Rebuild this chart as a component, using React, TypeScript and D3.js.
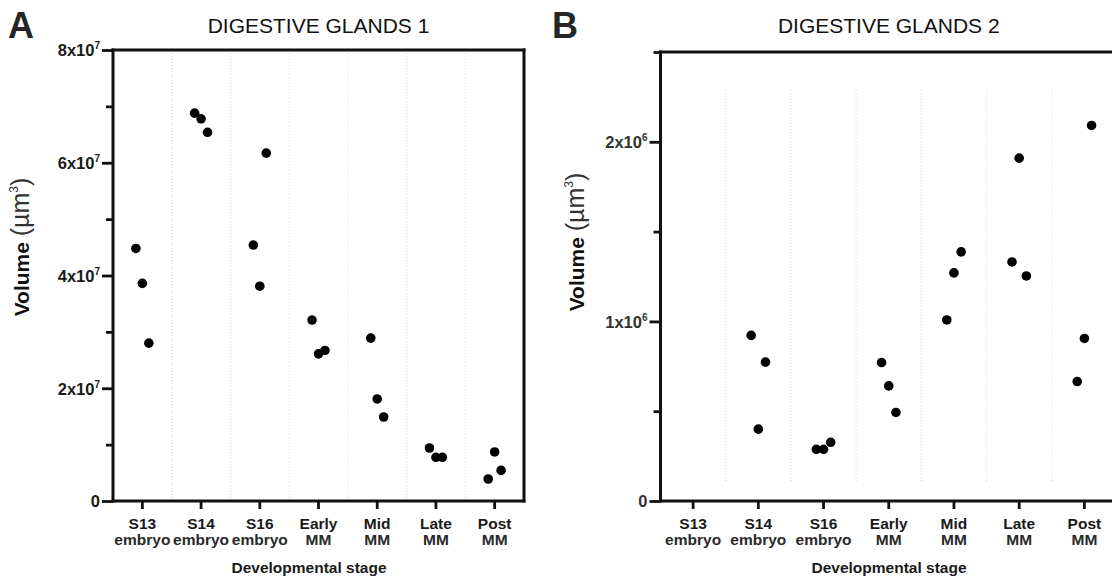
import React, { useEffect, useRef } from "react";
import * as d3 from "d3";

// developmental stages (two-line tick labels)
const stageTop = ["S13", "S14", "S16", "Early", "Mid", "Late", "Post"];
const stageBottom = ["embryo", "embryo", "embryo", "MM", "MM", "MM", "MM"];

// digestive glands 1 volumes (µm³), one list per stage
const glands1 = [
  [4.48e7, 3.86e7, 2.8e7],
  [6.88e7, 6.78e7, 6.54e7],
  [4.54e7, 3.81e7, 6.17e7],
  [3.21e7, 2.61e7, 2.67e7],
  [2.89e7, 1.81e7, 1.49e7],
  [0.94e7, 0.775e7, 0.775e7],
  [0.39e7, 0.87e7, 0.545e7],
];

// digestive glands 2 volumes (µm³)
const glands2 = [
  [],
  [0.922e6, 0.4e6, 0.773e6],
  [0.288e6, 0.288e6, 0.327e6],
  [0.771e6, 0.641e6, 0.493e6],
  [1.008e6, 1.27e6, 1.387e6],
  [1.331e6, 1.909e6, 1.253e6],
  [0.665e6, 0.905e6, 2.091e6],
];

const majorTicks1 = [0, 2e7, 4e7, 6e7, 8e7];
const minorTicks1 = [1e7, 3e7, 5e7, 7e7];
const majorTicks2 = [0, 1e6, 2e6];
const minorTicks2 = [0.5e6, 1.5e6, 2.5e6];

const FONT = "'Liberation Sans', Arial, Helvetica, sans-serif";
const INK = "#111";

const panels = [
  {
    letter: "A", letterX: 8, title: "DIGESTIVE GLANDS 1",
    data: glands1, yMax: 8e7, major: majorTicks1, minor: minorTicks1, exp: 7,
    left: 113, right: 524, top: 50, bottom: 501,
    yLabelX: 29, yLabelY: 247, xTitleX: 309, gridTop: 50, gridBottom: 501,
    tickColor: "#1a1a1a",
  },
  {
    letter: "B", letterX: 552, title: "DIGESTIVE GLANDS 2",
    data: glands2, yMax: 2.5e6, major: majorTicks2, minor: minorTicks2, exp: 6,
    left: 660.5, right: 1117, top: 52, bottom: 501,
    yLabelX: 584, yLabelY: 242, xTitleX: 889, gridTop: 90, gridBottom: 483,
    tickColor: "#333",
  },
];

function drawPanel(svg, p) {
  const g = svg.append("g").attr("font-family", FONT);

  const x = d3
    .scaleBand()
    .domain(d3.range(stageTop.length))
    .range([p.left, p.right])
    .padding(0);

  const y = d3.scaleLinear().domain([0, p.yMax]).range([p.bottom, p.top]);

  // faint dotted separators between stages
  g.selectAll(".sep")
    .data(d3.range(1, stageTop.length))
    .join("line")
    .attr("x1", (d) => p.left + d * x.step())
    .attr("x2", (d) => p.left + d * x.step())
    .attr("y1", p.gridTop)
    .attr("y2", p.gridBottom)
    .attr("stroke", "#d4d4d4")
    .attr("stroke-width", 1)
    .attr("stroke-dasharray", "1,2");

  // minor y ticks
  const minorAxis = g
    .append("g")
    .attr("transform", `translate(${p.left},0)`)
    .call(d3.axisLeft(y).tickValues(p.minor).tickSize(7).tickFormat(() => ""));
  minorAxis.select(".domain").remove();
  minorAxis.selectAll("line").attr("stroke", INK).attr("stroke-width", 2.8);

  // major y ticks with labels m x 10^exp
  const yAxis = g
    .append("g")
    .attr("transform", `translate(${p.left},0)`)
    .call(d3.axisLeft(y).tickValues(p.major).tickSize(11).tickPadding(3));
  yAxis.select(".domain").remove();
  yAxis.selectAll("line").attr("stroke", INK).attr("stroke-width", 2.8);
  yAxis
    .selectAll(".tick text")
    .attr("font-family", FONT)
    .attr("font-size", 16.5)
    .attr("font-weight", "bold")
    .attr("fill", p.tickColor)
    .attr("x", -13)
    .attr("dy", "0.36em")
    .each(function (d) {
      const t = d3.select(this);
      t.text(null);
      if (d === 0) {
        t.text("0");
        return;
      }
      t.append("tspan").text(`${d / Math.pow(10, p.exp)}x10`);
      t.append("tspan")
        .attr("font-size", 10)
        .attr("dy", -7)
        .text(p.exp);
    });

  // x ticks with two-line labels
  const xAxis = g
    .append("g")
    .attr("transform", `translate(0,${p.bottom})`)
    .call(d3.axisBottom(x).tickSize(8).tickSizeOuter(0));
  xAxis.select(".domain").remove();
  xAxis.selectAll("line").attr("stroke", INK).attr("stroke-width", 2.8);
  xAxis
    .selectAll(".tick text")
    .attr("font-family", FONT)
    .attr("font-size", 15.5)
    .attr("font-weight", "bold")
    .attr("fill", "#1a1a1a")
    .attr("y", 0)
    .attr("dy", null)
    .each(function (d) {
      const t = d3.select(this);
      t.text(null);
      t.append("tspan").attr("x", 0).attr("y", 27.5).text(stageTop[d]);
      t.append("tspan").attr("x", 0).attr("y", 44).attr("fill", "#2a2a2a").text(stageBottom[d]);
    });

  // frame
  const frame = [
    [p.left, p.top, p.left, p.bottom],
    [p.left, p.bottom, p.right, p.bottom],
    [p.left, p.top, p.right, p.top],
    [p.right, p.top, p.right, p.bottom],
  ];
  g.selectAll(".frame")
    .data(frame)
    .join("line")
    .attr("x1", (d) => d[0])
    .attr("y1", (d) => d[1])
    .attr("x2", (d) => d[2])
    .attr("y2", (d) => d[3])
    .attr("stroke", INK)
    .attr("stroke-width", 3)
    .attr("stroke-linecap", "square");

  // scatter points, spread slightly around the stage centre
  const spread = x.step() * 0.11;
  const points = p.data.flatMap((vals, si) =>
    vals.map((v, i) => ({ si, v, off: (i - (vals.length - 1) / 2) * spread }))
  );
  g.selectAll(".dot")
    .data(points)
    .join("circle")
    .attr("cx", (d) => x(d.si) + x.bandwidth() / 2 + d.off)
    .attr("cy", (d) => y(d.v))
    .attr("r", 4.8)
    .attr("fill", "#000");

  // titles and labels
  g.append("text")
    .attr("x", p.letterX)
    .attr("y", 37.5)
    .attr("font-size", 36)
    .attr("font-weight", "bold")
    .attr("fill", "#262626")
    .text(p.letter);

  g.append("text")
    .attr("x", (p.left + p.right) / 2)
    .attr("y", 33)
    .attr("text-anchor", "middle")
    .attr("font-size", 21)
    .attr("fill", "#111")
    .text(p.title);

  const yl = g
    .append("text")
    .attr("transform", `translate(${p.yLabelX},${p.yLabelY}) rotate(-90)`)
    .attr("text-anchor", "middle")
    .attr("font-size", 21)
    .attr("fill", "#111");
  yl.append("tspan").attr("font-weight", "bold").text("Volume ");
  yl.append("tspan").attr("font-size", 25).attr("fill", "#333").text("(µm");
  yl.append("tspan").attr("font-size", 12).attr("dy", -11).attr("fill", "#333").text("3");
  yl.append("tspan").attr("font-size", 25).attr("dy", 11).attr("fill", "#333").text(")");

  g.append("text")
    .attr("x", p.xTitleX)
    .attr("y", 573)
    .attr("text-anchor", "middle")
    .attr("font-size", 15.5)
    .attr("font-weight", "bold")
    .attr("fill", "#1a1a1a")
    .text("Developmental stage");
}

const App = () => {
  const svgRef = useRef();

  useEffect(() => {
    const svg = d3.select(svgRef.current);
    svg.selectAll("*").remove();
    svg.append("rect").attr("width", 1112).attr("height", 579).attr("fill", "#fff");
    panels.forEach((p) => drawPanel(svg, p));
  }, []);

  return (
    <svg
      ref={svgRef}
      width={1112}
      height={579}
      style={{ position: "absolute", left: 0, top: 0, overflow: "hidden" }}
    ></svg>
  );
};

export default App;
